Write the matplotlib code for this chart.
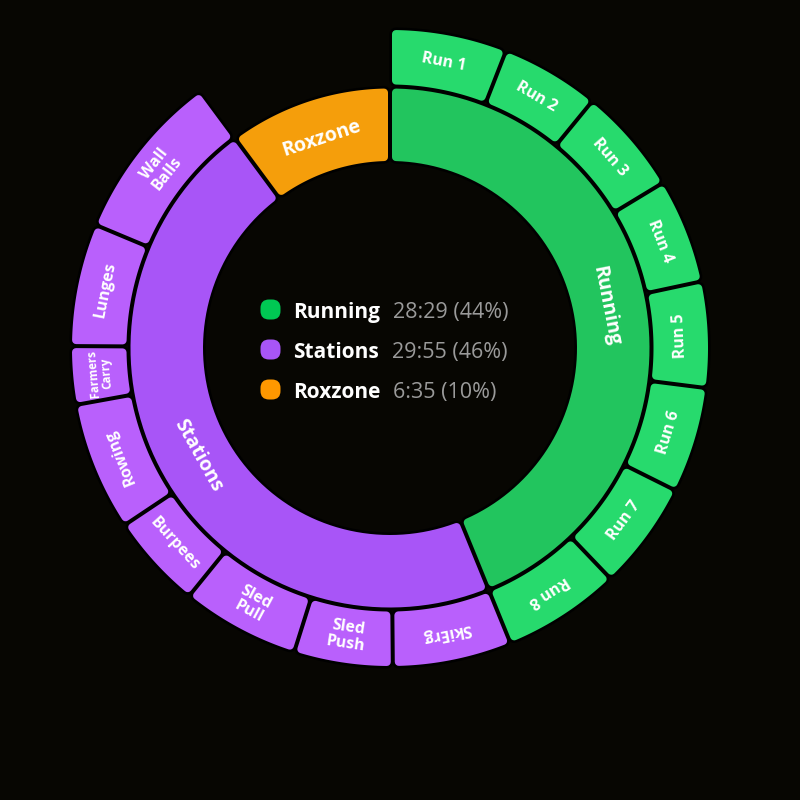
import numpy as np
import matplotlib
matplotlib.use("Agg")
import matplotlib.pyplot as plt
from matplotlib.patches import Polygon, FancyBboxPatch

# ---------------- data ----------------
groups = ["Running", "Stations", "Roxzone"]
group_seconds = [1709, 1795, 395]

run_labels = ["Run 1", "Run 2", "Run 3", "Run 4", "Run 5", "Run 6", "Run 7", "Run 8"]
run_seconds = [231, 195, 211, 207, 209, 209, 214, 233]

station_labels = ["SkiErg", "Sled\nPush", "Sled\nPull", "Burpees", "Rowing",
                  "Farmers\nCarry", "Lunges", "Wall\nBalls"]
station_seconds = [235, 195, 233, 187, 254, 115, 242, 334]

# ---------------- style ----------------
BG = "#070602"
inner_colors = {"Running": "#22c55e", "Stations": "#a855f7", "Roxzone": "#f59e0b"}
outer_colors = {"Running": "#27da6d", "Stations": "#b960fc"}
legend_colors = {"Running": "#00c853", "Stations": "#a855f7", "Roxzone": "#ff9800"}
FLIP = {"Run 5", "Run 6", "Run 7", "Sled\nPush", "Sled\nPull", "Burpees", "Stations"}
FONT = ["Open Sans", "DejaVu Sans"]

CX, CY = 390, 348
R_IN0, R_IN1 = 185, 261.5
R_OUT0, R_OUT1 = 261.5, 320
PAD, RC, STROKE = 4.0, 4.0, 2.6
DPI = 100
px2pt = 72.0 / DPI

fig = plt.figure(figsize=(8, 8), dpi=DPI, facecolor=BG)
ax = fig.add_axes([0, 0, 1, 1])
ax.set_xlim(0, 800)
ax.set_ylim(800, 0)
ax.set_aspect("equal")
ax.axis("off")
ax.set_facecolor(BG)


def sector_xy(a0, a1, r0, r1):
    d = PAD / 2 + RC
    R0, R1 = r0 + PAD / 2 + RC, r1 - PAD / 2 - RC
    d1, d0 = np.arcsin(d / R1), np.arcsin(d / R0)
    t_out = np.linspace(a0 + d1, a1 - d1, 80)
    t_in = np.linspace(a1 - d0, a0 + d0, 80)
    xs = np.concatenate([CX + R1 * np.sin(t_out), CX + R0 * np.sin(t_in)])
    ys = np.concatenate([CY - R1 * np.cos(t_out), CY - R0 * np.cos(t_in)])
    return np.column_stack([xs, ys])


def draw_segment(a0, a1, r0, r1, color, label, fs, weight):
    xy = sector_xy(a0, a1, r0, r1)
    ax.add_patch(Polygon(xy, closed=True, facecolor="black", edgecolor="black",
                         lw=2 * (RC + STROKE) * px2pt, joinstyle="round", zorder=1))
    ax.add_patch(Polygon(xy, closed=True, facecolor=color, edgecolor=color,
                         lw=2 * RC * px2pt, joinstyle="round", zorder=2))
    mid = (a0 + a1) / 2
    rm = (r0 + r1) / 2 - (3 if r0 < 200 else 0)
    rot = -np.degrees(mid)
    if label in FLIP:
        rot += 180
    ax.text(CX + rm * np.sin(mid), CY - rm * np.cos(mid), label, color="white",
            fontsize=fs, fontweight=weight, family=FONT, rotation=rot,
            rotation_mode="anchor", ha="center", va="center",
            multialignment="center", linespacing=1.0, zorder=3)


total = sum(group_seconds)
scale = 2 * np.pi / total

# inner ring
start = 0.0
group_start = {}
for g, v in zip(groups, group_seconds):
    group_start[g] = start
    draw_segment(start, start + v * scale, R_IN0, R_IN1, inner_colors[g], g, 14, "bold")
    start += v * scale

# outer ring
for g, labels, vals in [("Running", run_labels, run_seconds),
                        ("Stations", station_labels, station_seconds)]:
    a = group_start[g]
    for lab, v in zip(labels, vals):
        fs = 8.3 if lab.startswith("Farmers") else 11.5
        draw_segment(a, a + v * scale, R_OUT0, R_OUT1, outer_colors[g], lab, fs, "bold")
        a += v * scale

# center legend
row_y = [310, 350, 390]
for g, v, y in zip(groups, group_seconds, row_y):
    ax.add_patch(FancyBboxPatch((262, y - 9), 17, 17,
                                boxstyle="round,pad=1.5,rounding_size=8.5",
                                facecolor=legend_colors[g], edgecolor="none", zorder=4))
    t = ax.text(293, y, g, color="white", fontsize=15, fontweight="bold",
                family=FONT, ha="left", va="center_baseline", zorder=4)
    fig.canvas.draw()
    bb = t.get_window_extent(fig.canvas.get_renderer())
    x_end = ax.transData.inverted().transform((bb.x1, bb.y0))[0]
    pct = round(100 * v / total)
    txt = f"{v // 60}:{v % 60:02d} ({pct}%)"
    ax.text(x_end + 13, y, txt, color="#9a9a9a", fontsize=15.5,
            family=FONT, ha="left", va="center_baseline", zorder=4)

fig.savefig("out.png", dpi=DPI, facecolor=BG)
